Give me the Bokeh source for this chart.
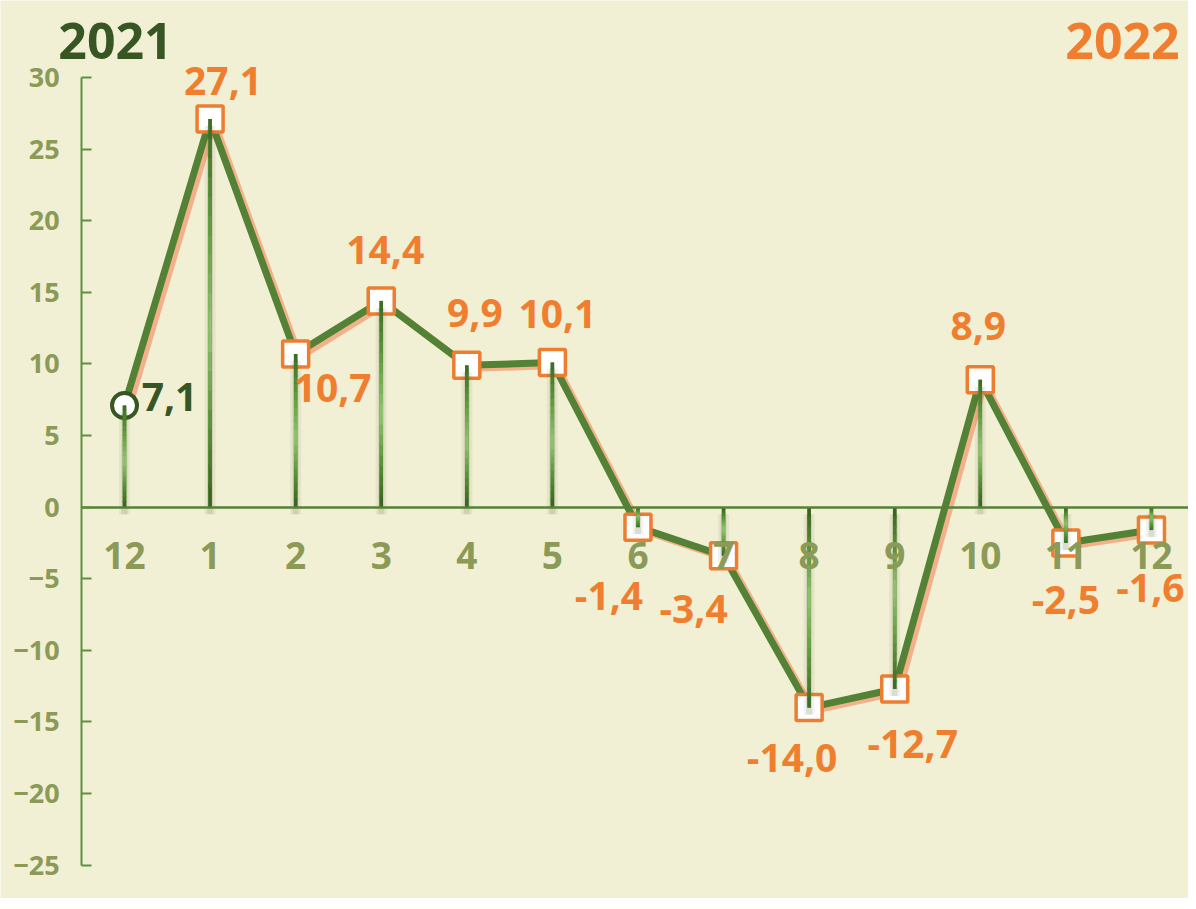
import numpy as np
from bokeh.plotting import figure
from bokeh.models import Range1d, FixedTicker, ColumnDataSource
from bokeh.core.properties import value
from bokeh.embed import file_html
from bokeh.resources import INLINE

# ---------------- data ----------------
month_labels = ["12", "1", "2", "3", "4", "5", "6", "7", "8", "9", "10", "11", "12"]
value_2021 = [7.1]                       # December 2021
values_2022 = [27.1, 10.7, 14.4, 9.9, 10.1, -1.4, -3.4, -14.0, -12.7, 8.9, -2.5, -1.6]
y_ticks = [-25, -20, -15, -10, -5, 0, 5, 10, 15, 20, 25, 30]
year_titles = ["2021", "2022"]

# ---------------- style ----------------
BG = "#F1F0D4"
GREEN = "#538135"
DARK_GREEN = "#375623"
ORANGE = "#ED7D31"
LABEL_ORANGE = "#F07E2F"
SALMON = "#F4B08A"
OLIVE = "#8B9A57"
FONT = "Open Sans"

W, H = 1188, 898
XS, XE = -1.449, 12.433
YS, YE = -27.33, 35.38
PPX = W / (XE - XS)
PPY = H / (YE - YS)

# label pixel offsets (dx right, dy down) per point
label_dx = [45, 13, 37, 4, 8, 5, -29, -30, -17, 18, -2, 0, -1]
label_dy = [-8, -38, 34, -51, -52, -49, 69, 53, 50, 55, -54, 57, 58]

all_values = value_2021 + values_2022
xs = list(range(len(all_values)))


def fmt(v):
    return f"{v:.1f}".replace(".", ",")


p = figure(width=W, height=H, x_range=Range1d(XS, XE), y_range=Range1d(YS, YE),
           output_backend="svg", toolbar_location=None, min_border=0,
           background_fill_color=BG, border_fill_color=BG, outline_line_color=None)
p.grid.visible = False

# x axis at y = 0
xa = p.xaxis[0]
xa.fixed_location = 0
xa.bounds = (-0.5, XE)
xa.ticker = FixedTicker(ticks=xs)
xa.major_label_overrides = {i: lab for i, lab in zip(xs, month_labels)}
xa.axis_line_color = GREEN
xa.axis_line_width = 2.5
xa.major_tick_out = 0
xa.major_tick_in = 0
xa.minor_tick_line_color = None
xa.major_label_standoff = 35
xa.major_label_text_font = FONT
xa.major_label_text_font_style = "bold"
xa.major_label_text_font_size = "37px"
xa.major_label_text_color = OLIVE

# y axis
ya = p.yaxis[0]
ya.fixed_location = -0.5
ya.bounds = (y_ticks[0], y_ticks[-1])
ya.ticker = FixedTicker(ticks=y_ticks)
ya.axis_line_color = "#5E8F3E"
ya.axis_line_width = 2
ya.major_tick_line_color = "#5E8F3E"
ya.major_tick_line_width = 2
ya.major_tick_in = 10
ya.major_tick_out = 0
ya.minor_tick_line_color = None
ya.major_label_standoff = 22
ya.major_label_text_font = FONT
ya.major_label_text_font_style = "bold"
ya.major_label_text_font_size = "27px"
ya.major_label_text_color = OLIVE

src = ColumnDataSource(dict(x=xs, y=all_values))

# line shadow + main line
p.line(x=[x + 4 / PPX for x in xs], y=[v - 3 / PPY for v in all_values],
       line_color=SALMON, line_width=7, line_join="round")
p.line(x="x", y="y", source=src, line_color=GREEN, line_width=7, line_join="round")

# markers
p.scatter(x=xs[:1], y=value_2021, marker="circle", size=25, fill_color="white",
          line_color=DARK_GREEN, line_width=4)
p.scatter(x=xs[1:], y=values_2022, marker="square", size=26, fill_color="white",
          line_color=ORANGE, line_width=3.5)

# drop line shadows
off = 7 / PPY
p.segment(x0=xs, y0=[-off] * len(xs), x1=xs, y1=[v - off for v in all_values],
          line_color="#5A5A3A", line_alpha=0.08, line_width=11)
p.segment(x0=xs, y0=[-off] * len(xs), x1=xs, y1=[v - off for v in all_values],
          line_color="#5A5A3A", line_alpha=0.14, line_width=6)

# drop lines: solid base + dark-light-dark gradient overlay
p.segment(x0=xs, y0=[0] * len(xs), x1=xs, y1=all_values, line_color="#4F8A30", line_width=3.5)


def hex2rgb(h):
    return [int(h[i:i + 2], 16) for i in (1, 3, 5)]


stops_t = [0.0, 0.2, 0.45, 0.7, 1.0]
stops_c = np.array([hex2rgb(c) for c in ["#36601F", "#548F33", "#93C572", "#62A03F", "#3B6A24"]],
                   dtype=float)
n = 20
sx0, sy0, sx1, sy1, scol = [], [], [], [], []
for x, v in zip(xs, all_values):
    for k in range(n):
        t0, t1 = k / n, (k + 1) / n
        tm = (t0 + t1) / 2
        c = [np.interp(tm, stops_t, stops_c[:, j]) for j in range(3)]
        sx0.append(x); sx1.append(x)
        sy0.append(v * t0); sy1.append(v * min(1.0, t1 + 0.01))
        scol.append("#%02x%02x%02x" % tuple(int(round(q)) for q in c))
p.segment(x0=sx0, y0=sy0, x1=sx1, y1=sy1, line_color=scol, line_width=3.5)

# data labels
lab_x = [x + dx / PPX for x, dx in zip(xs, label_dx)]
lab_y = [v - dy / PPY for v, dy in zip(all_values, label_dy)]
lab_t = [fmt(v) for v in all_values]
lab_c = [DARK_GREEN] + [LABEL_ORANGE] * len(values_2022)
p.text(x=lab_x, y=lab_y, text=lab_t, text_color=lab_c, text_font=value(FONT),
       text_font_style="bold", text_font_size="39px", text_align="center",
       text_baseline="middle")

# year titles
def px2x(px):
    return XS + (px - 8) / PPX

def px2y(py):
    return YE - (py - 8) / PPY

p.text(x=[px2x(123), px2x(1130)], y=[px2y(48), px2y(48)], text=year_titles,
       text_color=[DARK_GREEN, LABEL_ORANGE], text_font=value(FONT),
       text_font_style="bold", text_font_size="50px", text_align="center",
       text_baseline="middle")

open("out.html", "w").write(file_html(p, INLINE))
